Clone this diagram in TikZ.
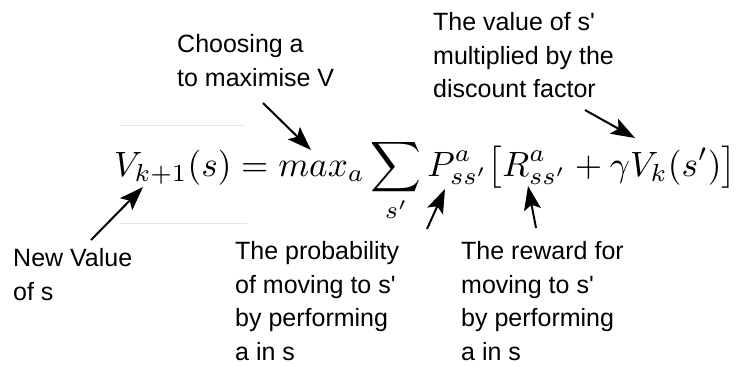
\documentclass[tikz,border=0pt]{standalone}
\usepackage[no-math]{fontspec}
\setmainfont{Liberation Sans}
\usepackage{graphicx}
\usetikzlibrary{arrows.meta}
\tikzset{
  lbl/.style={anchor=north west, inner sep=0pt, align=left, font=\fontsize{25}{33.5}\selectfont},
  arr/.style={line width=2pt, -{Stealth[length=24pt,width=17pt,inset=5pt]}},
  faint/.style={draw=black!10, line width=1pt}
}
\begin{document}
\begin{tikzpicture}[x=1pt,y=-1pt]
\useasboundingbox (0,0) rectangle (753,365);
% faint screenshot edges
\draw[faint] (120,125) -- (245,125);
\draw[faint] (120,223) -- (247,223);
% formula
\node[anchor=base west, inner sep=0pt] (eq) at (114,176)
  {\resizebox{622pt}{!}{$\displaystyle V_{k+1}(s) = max_a \sum_{s'} P^a_{ss'} \bigl[R^a_{ss'} + \gamma V_k(s')\bigr]$}};
% labels
\node[lbl] (choose) at (177,34.5) {Choosing a\\to maximise V};
\node[lbl] (disc) at (433,12.5) {The value of s\textquotesingle\\multiplied by the\\discount factor};
\node[lbl] (newv) at (13,248.5) {New Value\\of s};
\node[lbl] (prob) at (235,241.5) {The probability\\of moving to s\textquotesingle\\by performing\\a in s};
\node[lbl] (rew) at (461,241.5) {The reward for\\moving to s\textquotesingle\\by performing\\a in s};
% arrow endpoints
\coordinate (c1) at (263,103); \coordinate (m1) at (311,150);
\coordinate (c2) at (585,110); \coordinate (m2) at (635,138);
\coordinate (c3) at (91,240);  \coordinate (m3) at (143,187);
\coordinate (c4) at (427,229); \coordinate (m4) at (445,189);
\coordinate (c5) at (536,228); \coordinate (m5) at (528,186);
\draw[arr] (c1) -- (m1);
\draw[arr] (c2) -- (m2);
\draw[arr] (c3) -- (m3);
\draw[arr] (c4) -- (m4);
\draw[arr] (c5) -- (m5);
\end{tikzpicture}
\end{document}
